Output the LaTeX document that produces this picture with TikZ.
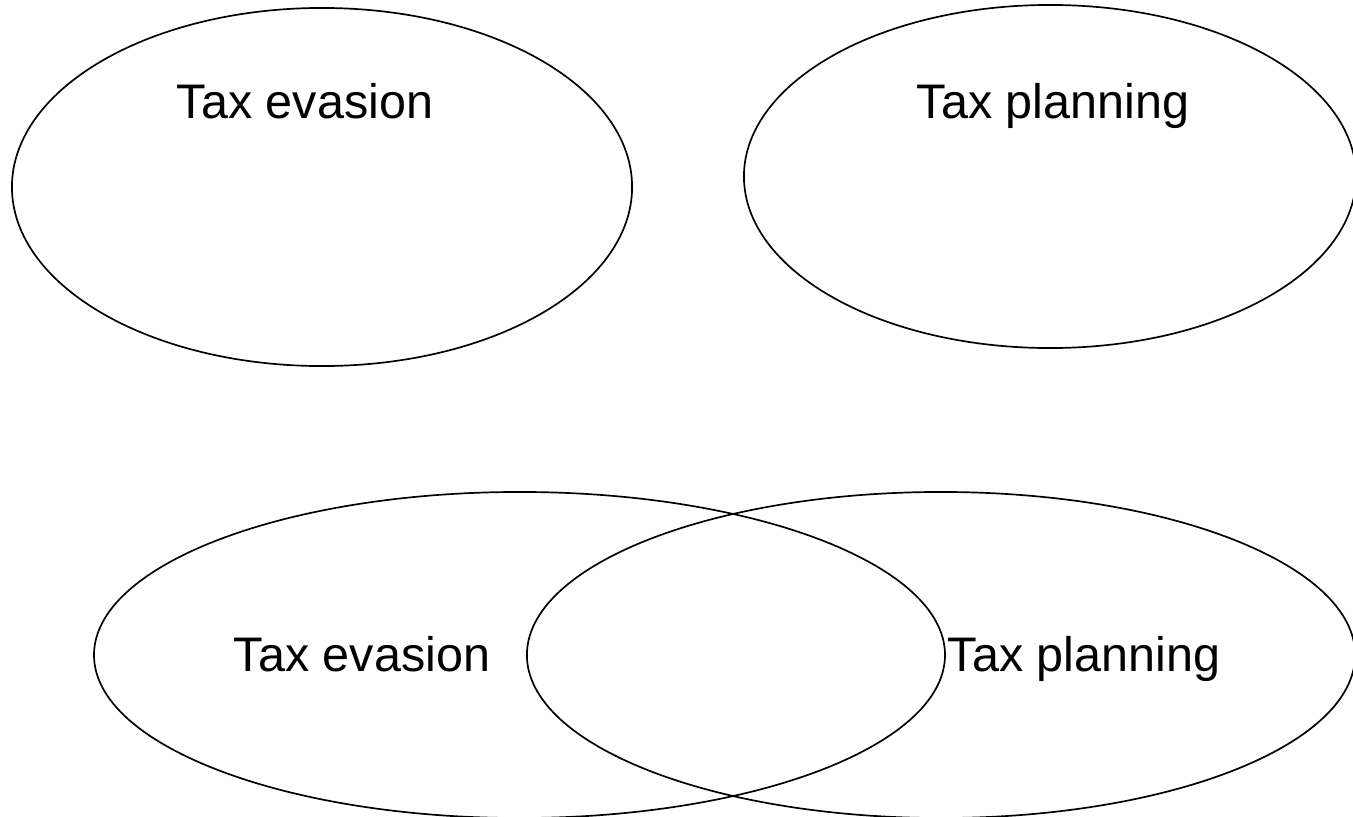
\documentclass[tikz,border=0pt]{standalone}
\usepackage{fontspec}
\setmainfont{Liberation Sans}
\usetikzlibrary{shapes.geometric}

\tikzset{
  set/.style={draw, ellipse, line width=1.2pt, inner sep=0pt},
  tag/.style={font=\fontsize{34.5}{41}\selectfont, anchor=base, inner sep=0pt}
}

\begin{document}
\begin{tikzpicture}[x=0.025cm, y=-0.025cm]

  \useasboundingbox (0,0) rectangle (1353,816);

  % Define nodes
  \node[set, minimum width=15.5cm, minimum height=8.95cm]  (evasionTop)  at (322,187)   {};
  \node[set, minimum width=15.3cm, minimum height=8.575cm] (planningTop) at (1050,176.5) {};
  \node[set, minimum width=21.27cm, minimum height=8.15cm] (evasionBot)  at (519.5,655) {};
  \node[set, minimum width=20.7cm, minimum height=8.15cm]  (planningBot) at (941,655)   {};

  % Labels
  \node[tag] (evasionTopText)  at (305,118)  {Tax evasion};
  \node[tag] (planningTopText) at (1053,118) {Tax planning};
  \node[tag] (evasionBotText)  at (362,671)  {Tax evasion};
  \node[tag] (planningBotText) at (1084,671) {Tax planning};

\end{tikzpicture}
\end{document}
